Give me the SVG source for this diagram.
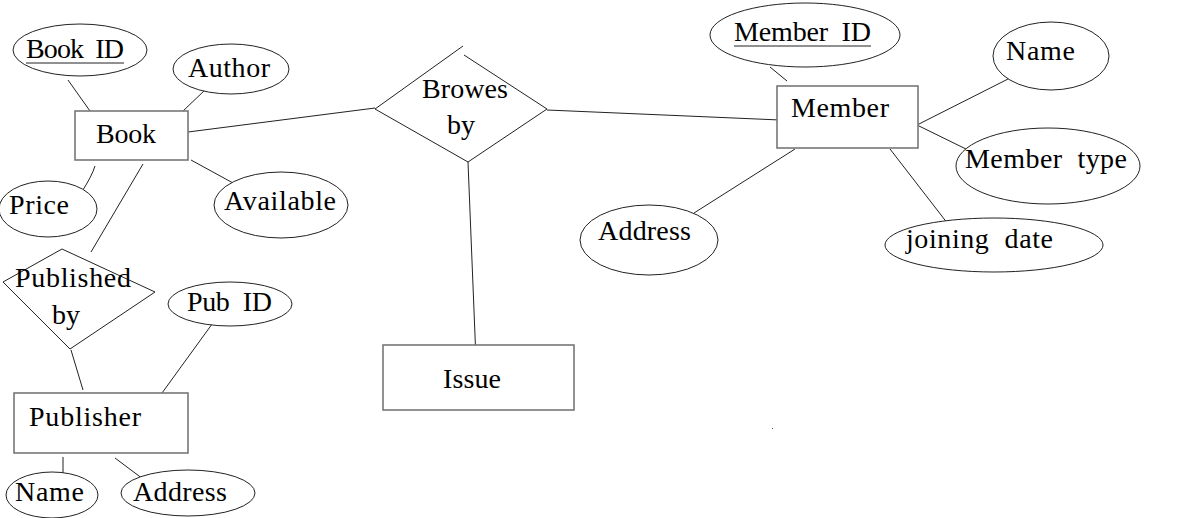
<svg xmlns="http://www.w3.org/2000/svg" width="1179" height="518" viewBox="0 0 1179 518">
<style>
.ent{fill:#fff;stroke:#777;stroke-width:1.6}
.att{fill:#fff;stroke:#222;stroke-width:1}
.rel{fill:#fff;stroke:#222;stroke-width:1}
.ln{stroke:#222;stroke-width:1;fill:none}
text{font-family:"Liberation Serif","DejaVu Serif",serif;font-size:28px;fill:#000;white-space:pre}
</style>
<rect width="1179" height="518" fill="#fff"/>
<g id="connectors">
<line class="ln" x1="68" y1="80" x2="90" y2="111"/>
<line class="ln" x1="205" y1="90" x2="183" y2="111"/>
<path class="ln" d="M95 166 Q92 176 81 193"/>
<line class="ln" x1="191" y1="160" x2="233" y2="183"/>
<line class="ln" x1="143" y1="164" x2="91" y2="252"/>
<line class="ln" x1="71" y1="350" x2="83" y2="390"/>
<line class="ln" x1="215" y1="320" x2="162" y2="393"/>
<line class="ln" x1="63" y1="457" x2="63" y2="473"/>
<line class="ln" x1="115" y1="458" x2="143" y2="479"/>
<line class="ln" x1="188" y1="132" x2="375" y2="108"/>
<line class="ln" x1="547" y1="110" x2="780" y2="120"/>
<line class="ln" x1="468" y1="162" x2="476" y2="360"/>
<line class="ln" x1="770" y1="67" x2="787" y2="81"/>
<line class="ln" x1="1010" y1="78" x2="917" y2="125"/>
<line class="ln" x1="917" y1="125" x2="968" y2="150"/>
<line class="ln" x1="795" y1="149" x2="694" y2="213"/>
<line class="ln" x1="890" y1="149" x2="948" y2="224"/>
</g>
<g id="book-id"><ellipse class="att" cx="80" cy="50" rx="67" ry="26"/><text x="26" y="58" textLength="98">Book  ID</text><line class="ln" x1="26" y1="63" x2="124" y2="63"/></g>
<g id="author"><ellipse class="att" cx="231" cy="69" rx="58" ry="25"/><text x="188" y="77" textLength="82">Author</text></g>
<g id="book"><rect class="ent" x="75" y="111" width="113" height="49"/><text x="96" y="143" textLength="60">Book</text></g>
<g id="price"><ellipse class="att" cx="48" cy="209" rx="49" ry="28"/><text x="9" y="214" textLength="60">Price</text></g>
<g id="available"><ellipse class="att" cx="281" cy="205" rx="67" ry="33"/><text x="224" y="210" textLength="112">Available</text></g>
<g id="published-by"><polygon class="rel" points="62,249 155,292 70,349 3,282"/><text x="15" y="287" textLength="116">Published</text><text x="52" y="324" textLength="28">by</text></g>
<g id="pub-id"><ellipse class="att" cx="230" cy="304" rx="62" ry="22"/><text x="187" y="311" textLength="85">Pub  ID</text></g>
<g id="publisher"><rect class="ent" x="14" y="393" width="174" height="60"/><text x="29" y="426" textLength="112">Publisher</text></g>
<g id="pub-name"><ellipse class="att" cx="52" cy="495" rx="46" ry="23"/><text x="15" y="501" textLength="69">Name</text></g>
<g id="pub-address"><ellipse class="att" cx="188" cy="493" rx="67" ry="23"/><text x="133" y="501" textLength="94">Address</text></g>
<g id="browes-by"><path class="rel" d="M463 46 L375 109 L468 162 L547 109 L464 55"/><text x="422" y="98" textLength="86">Browes</text><text x="447" y="134" textLength="28">by</text></g>
<g id="issue"><rect class="ent" x="383" y="345" width="191" height="65"/><text x="443" y="388" textLength="58">Issue</text></g>
<g id="member"><rect class="ent" x="777" y="86" width="141" height="62"/><text x="791" y="117" textLength="98">Member</text></g>
<g id="member-id"><ellipse class="att" cx="805" cy="35" rx="95" ry="32"/><text x="734" y="41" textLength="137">Member  ID</text><line class="ln" x1="734" y1="46" x2="871" y2="46"/></g>
<g id="member-name"><ellipse class="att" cx="1051" cy="56" rx="58" ry="34"/><text x="1006" y="60" textLength="69">Name</text></g>
<g id="member-type"><ellipse class="att" cx="1048" cy="166" rx="92" ry="38"/><text x="965" y="168" textLength="162">Member  type</text></g>
<g id="member-address"><ellipse class="att" cx="649" cy="240" rx="69" ry="35"/><text x="598" y="240" textLength="93">Address</text></g>
<g id="joining-date"><ellipse class="att" cx="994" cy="245" rx="109" ry="27"/><text x="906" y="248" textLength="147">joining  date</text></g>
<rect x="772" y="428" width="1" height="1" fill="#555"/>
</svg>
